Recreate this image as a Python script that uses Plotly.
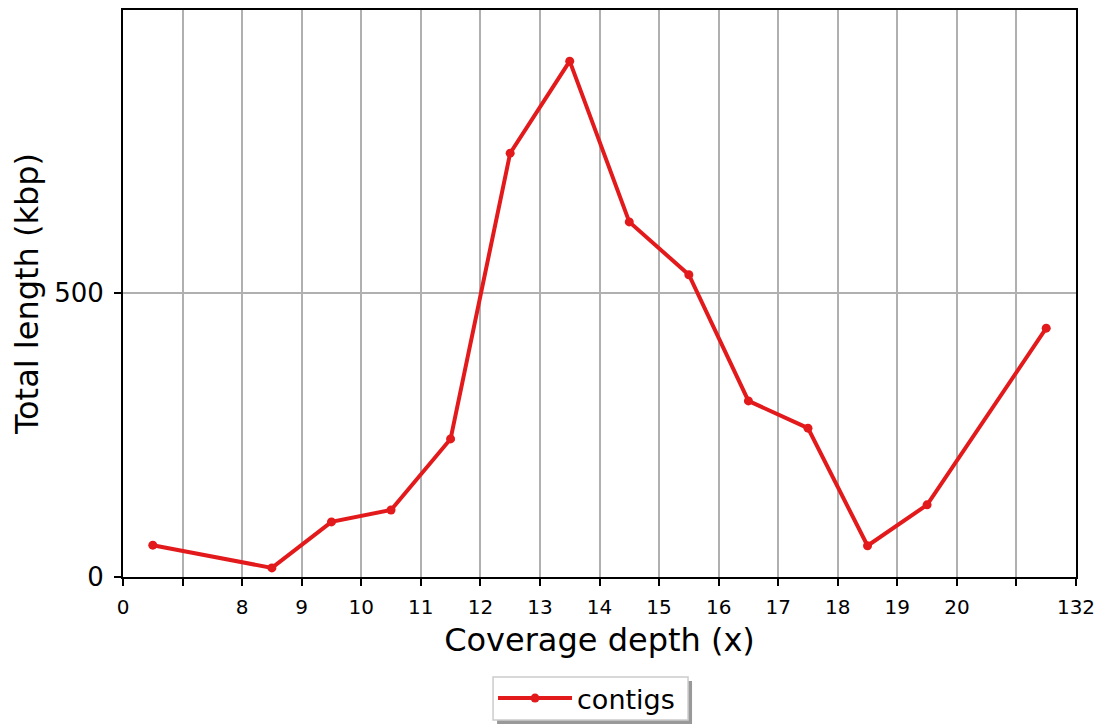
import plotly.graph_objects as go

# Tick labels along the x axis (bin edges)
tick_labels = ["0", "", "8", "9", "10", "11", "12", "13", "14", "15", "16", "17", "18", "19", "20", "", "132"]
# Each point sits in the bin starting at this tick index
point_bin = [0, 2, 3, 4, 5, 6, 7, 8, 9, 10, 11, 12, 13, 15]
# Total length (kbp)
total_kbp = [56, 16, 97, 118, 243, 746, 908, 625, 532, 310, 262, 55, 127, 438]

x_mid = [b + 0.5 for b in point_bin]

fig = go.Figure()
fig.add_trace(go.Scatter(
    x=x_mid, y=total_kbp, mode="lines+markers", name="contigs",
    line=dict(color="#e31a1c", width=4),
    marker=dict(color="#e31a1c", size=9),
))

font = "DejaVu Sans"
fig.update_layout(
    width=1101, height=728,
    margin=dict(l=123, r=25, t=10, b=151),
    plot_bgcolor="white", paper_bgcolor="white",
    font=dict(family=font, color="black"),
    showlegend=True,
    legend=dict(
        orientation="h", xref="container", yref="container",
        x=0.4478, xanchor="left", y=0.0405, yanchor="middle",
        bgcolor="rgba(0,0,0,0)", borderwidth=0,
        font=dict(size=27, family=font),
        itemwidth=74,
    ),
    xaxis=dict(
        range=[0, len(tick_labels) - 1],
        tickmode="array",
        tickvals=list(range(len(tick_labels))),
        ticktext=tick_labels,
        showgrid=True, gridcolor="#b0b0b0", gridwidth=1.5,
        showline=True, linecolor="black", linewidth=2, mirror=True,
        ticks="outside", ticklen=7, tickwidth=2, tickcolor="black",
        tickfont=dict(size=20), ticklabelstandoff=4,
        title=dict(text="Coverage depth (x)", font=dict(size=32), standoff=11),
        zeroline=False, automargin=False,
    ),
    yaxis=dict(
        range=[0, 998],
        tickmode="array", tickvals=[0, 500], ticktext=["0", "500"],
        showgrid=True, gridcolor="#b0b0b0", gridwidth=1.5,
        showline=True, linecolor="black", linewidth=2, mirror=True,
        ticks="outside", ticklen=7, tickwidth=2, tickcolor="black",
        tickfont=dict(size=26), ticklabelstandoff=5,
        title=dict(text="Total length (kbp)", font=dict(size=32), standoff=6),
        zeroline=False, automargin=False,
    ),
)

# legend shadow and frame
fig.add_shape(type="rect", xref="paper", yref="paper",
              x0=0.3925, x1=0.5971, y0=-0.2593, y1=-0.1834,
              fillcolor="#999999", line=dict(width=0), layer="above")
fig.add_shape(type="rect", xref="paper", yref="paper",
              x0=0.3883, x1=0.5929, y0=-0.2522, y1=-0.1764,
              fillcolor="white", line=dict(color="#cccccc", width=1.5), layer="above")

fig.write_html("out.html", config={"displayModeBar": False},
               post_script="document.body.style.margin='0px';")
